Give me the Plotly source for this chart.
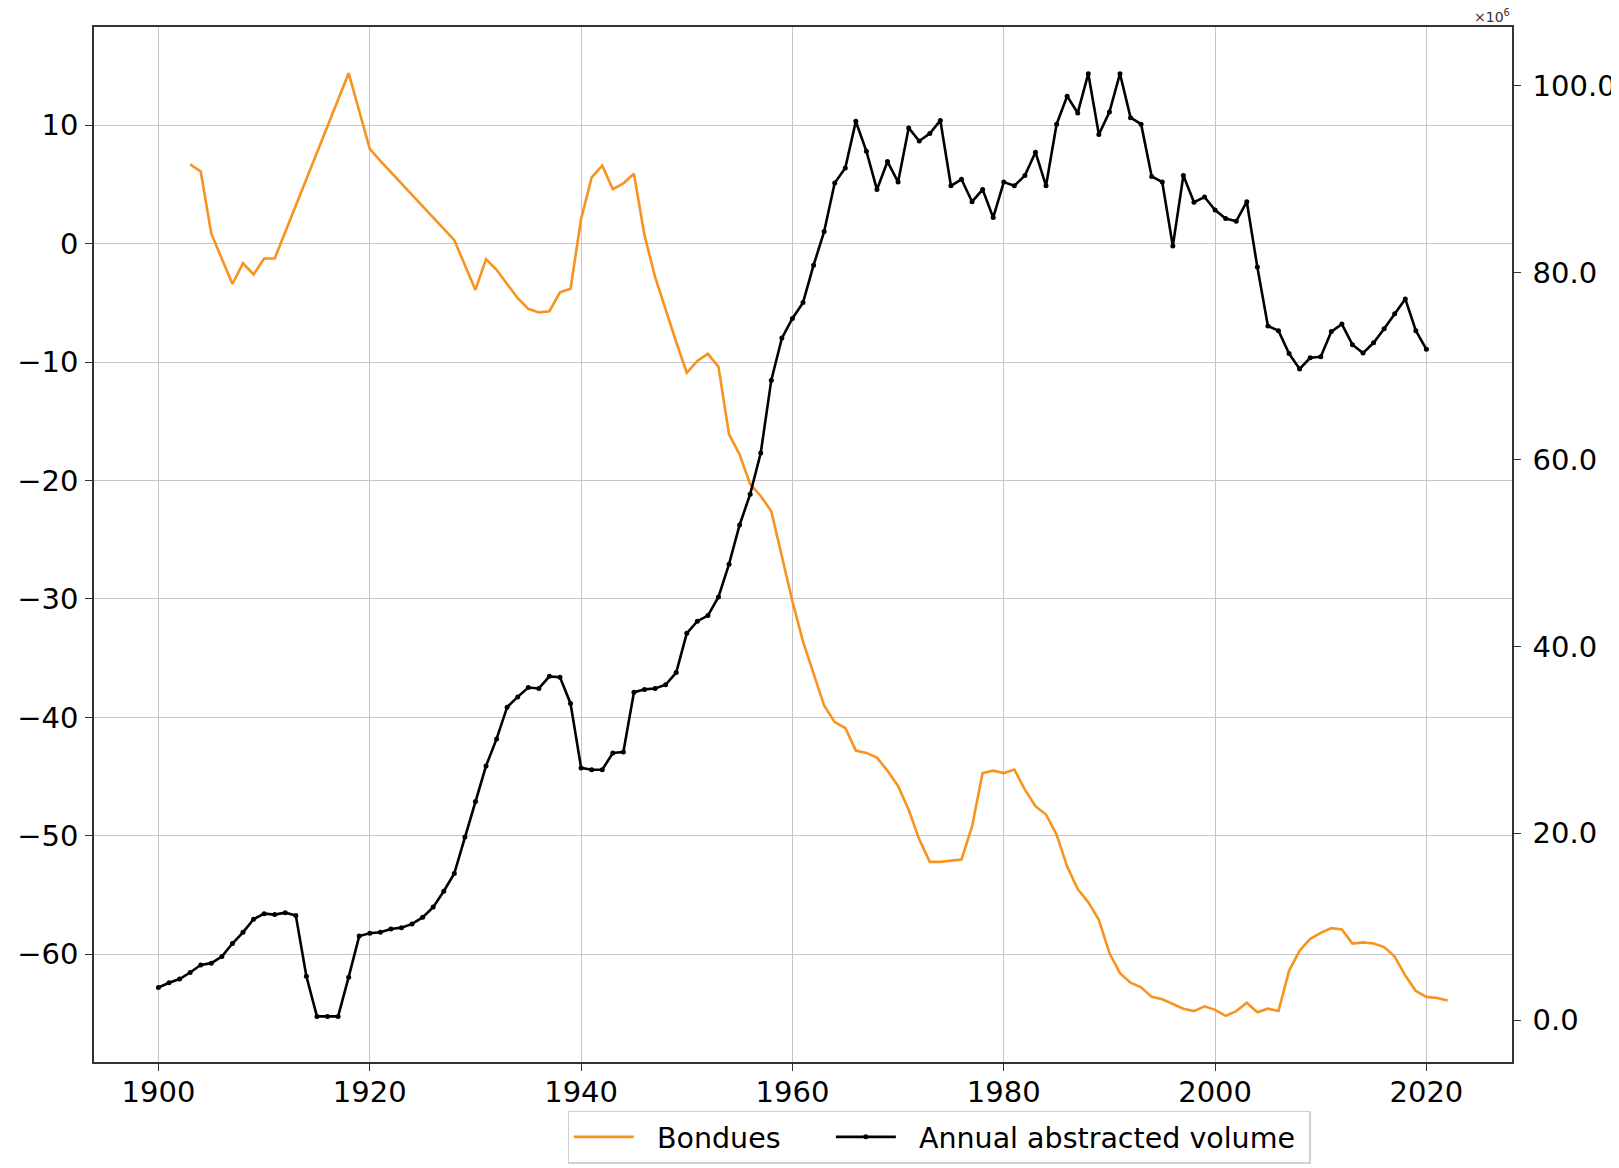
import plotly.graph_objects as go

# Bondues (left axis)
bondues_years = [1903, 1904, 1905, 1906, 1907, 1908, 1909, 1910, 1911, 1918, 1920, 1921, 1928,
                 1930, 1931, 1932, 1933, 1934, 1935, 1936, 1937, 1938, 1939,
                 1940, 1941, 1942, 1943, 1944, 1945, 1946, 1947, 1948, 1949,
                 1950, 1951, 1952, 1953, 1954, 1955, 1956, 1957, 1958, 1959,
                 1960, 1961, 1962, 1963, 1964, 1965, 1966, 1967, 1968, 1969,
                 1970, 1971, 1972, 1973, 1974, 1975, 1976, 1977, 1978, 1979,
                 1980, 1981, 1982, 1983, 1984, 1985, 1986, 1987, 1988, 1989,
                 1990, 1991, 1992, 1993, 1994, 1995, 1996, 1997, 1998, 1999,
                 2000, 2001, 2002, 2003, 2004, 2005, 2006, 2007, 2008, 2009,
                 2010, 2011, 2012, 2013, 2014, 2015, 2016, 2017, 2018, 2019,
                 2020, 2021, 2022]
bondues_values = [6.7, 6.1, 0.85, -1.3, -3.4, -1.65, -2.6, -1.25, -1.25, 14.4, 8.0, 7.0, 0.3,
                  -3.9, -1.3, -2.2, -3.4, -4.6, -5.5, -5.8, -5.7, -4.1, -3.8,
                  2.1, 5.6, 6.6, 4.6, 5.1, 5.9, 0.7, -2.8, -5.6, -8.3,
                  -10.9, -9.9, -9.3, -10.4, -16.1, -17.8, -20.3, -21.3, -22.6, -26.4,
                  -30.2, -33.6, -36.3, -39.0, -40.4, -40.9, -42.8, -43.0, -43.4, -44.5,
                  -45.8, -47.8, -50.3, -52.2, -52.2, -52.1, -52.0, -49.2, -44.7, -44.5,
                  -44.7, -44.4, -46.1, -47.5, -48.2, -49.9, -52.6, -54.5, -55.6, -57.1,
                  -59.9, -61.6, -62.4, -62.8, -63.6, -63.8, -64.2, -64.6, -64.8, -64.4,
                  -64.7, -65.2, -64.8, -64.1, -64.9, -64.6, -64.8, -61.4, -59.7, -58.7,
                  -58.2, -57.8, -57.9, -59.1, -59.0, -59.1, -59.4, -60.2, -61.8, -63.1,
                  -63.6, -63.7, -63.9]

# Annual abstracted volume (right axis, x10^6)
volume_years = list(range(1900, 2021))
volume_values = [3.5, 4.0, 4.4, 5.1, 5.9, 6.1, 6.8, 8.2, 9.4, 10.8,
                 11.4, 11.3, 11.5, 11.2, 4.7, 0.4, 0.4, 0.4, 4.6, 9.0,
                 9.3, 9.4, 9.75, 9.9, 10.3, 11.0, 12.1, 13.8, 15.7, 19.6,
                 23.4, 27.2, 30.1, 33.5, 34.6, 35.6, 35.5, 36.8, 36.7, 33.9,
                 27.0, 26.8, 26.8, 28.6, 28.7, 35.1, 35.4, 35.5, 35.9, 37.2,
                 41.4, 42.7, 43.3, 45.3, 48.8, 53.0, 56.3, 60.7, 68.5, 73.0,
                 75.1, 76.8, 80.8, 84.4, 89.6, 91.2, 96.2, 93.0, 88.9, 91.9,
                 89.7, 95.5, 94.1, 94.9, 96.3, 89.3, 90.0, 87.6, 88.9, 85.9,
                 89.7, 89.3, 90.4, 92.9, 89.3, 95.9, 98.9, 97.1, 101.3, 94.8,
                 97.2, 101.3, 96.6, 95.9, 90.3, 89.7, 82.85, 90.4, 87.55, 88.1,
                 86.7, 85.8, 85.5, 87.6, 80.6, 74.3, 73.8, 71.35, 69.7, 70.9,
                 71.0, 73.7, 74.5, 72.3, 71.4, 72.5, 74.0, 75.6, 77.2, 73.8,
                 71.8]

series_names = ["Bondues", "Annual abstracted volume"]
x_ticks = [1900, 1920, 1940, 1960, 1980, 2000, 2020]
left_ticks = [-60, -50, -40, -30, -20, -10, 0, 10]
right_ticks = [0, 20, 40, 60, 80, 100]

FONT = "DejaVu Sans"
FS = 29
NB = "\u00a0"

fig = go.Figure()
fig.add_trace(go.Scatter(x=bondues_years, y=bondues_values,
                         name=NB * 2 + series_names[0] + NB * 5,
                         mode="lines", line=dict(color="#f7931e", width=2.6),
                         yaxis="y"))
fig.add_trace(go.Scatter(x=volume_years, y=volume_values,
                         name=NB * 2 + series_names[1] + NB,
                         mode="lines+markers", line=dict(color="black", width=2.6),
                         marker=dict(color="black", size=5), yaxis="y2"))

axis_common = dict(showline=True, linecolor="#333333", linewidth=1.6,
                   ticks="outside", ticklen=7, tickwidth=1.3, tickcolor="#333333",
                   tickfont=dict(family=FONT, size=FS, color="black"),
                   zeroline=False)

fig.update_layout(
    width=1611, height=1160,
    margin=dict(l=86, r=107, t=19, b=106, autoexpand=False),
    paper_bgcolor="white", plot_bgcolor="white",
    font=dict(family=FONT, size=FS, color="black"),
    xaxis=dict(range=[1893.9, 2028.1], tickvals=x_ticks, mirror=True,
               showgrid=True, gridcolor="#c6c6c6", gridwidth=1.4,
               ticklabelstandoff=-4, **axis_common),
    yaxis=dict(range=[-69.1, 18.3], tickvals=left_ticks, mirror=True,
               showgrid=True, gridcolor="#c6c6c6", gridwidth=1.4,
               ticklabelstandoff=1, **axis_common),
    yaxis2=dict(range=[-4.48, 106.3], tickvals=right_ticks, tickformat=".1f",
                overlaying="y", side="right", showgrid=False,
                ticklabelstandoff=6, **axis_common),
    legend=dict(orientation="h", x=0.596, xanchor="center", y=-0.047, yanchor="top",
                bgcolor="white", bordercolor="#d0d0d0", borderwidth=1.2,
                font=dict(family=FONT, size=28.5, color="black"),
                itemwidth=60),
    showlegend=True,
)

fig.add_annotation(text="×10<sup>6</sup>", xref="paper", yref="paper", x=1.0, y=1.0,
                   xanchor="right", yanchor="bottom", showarrow=False,
                   font=dict(family=FONT, size=14, color="#333333"), yshift=0)

fig.write_html("out.html")
